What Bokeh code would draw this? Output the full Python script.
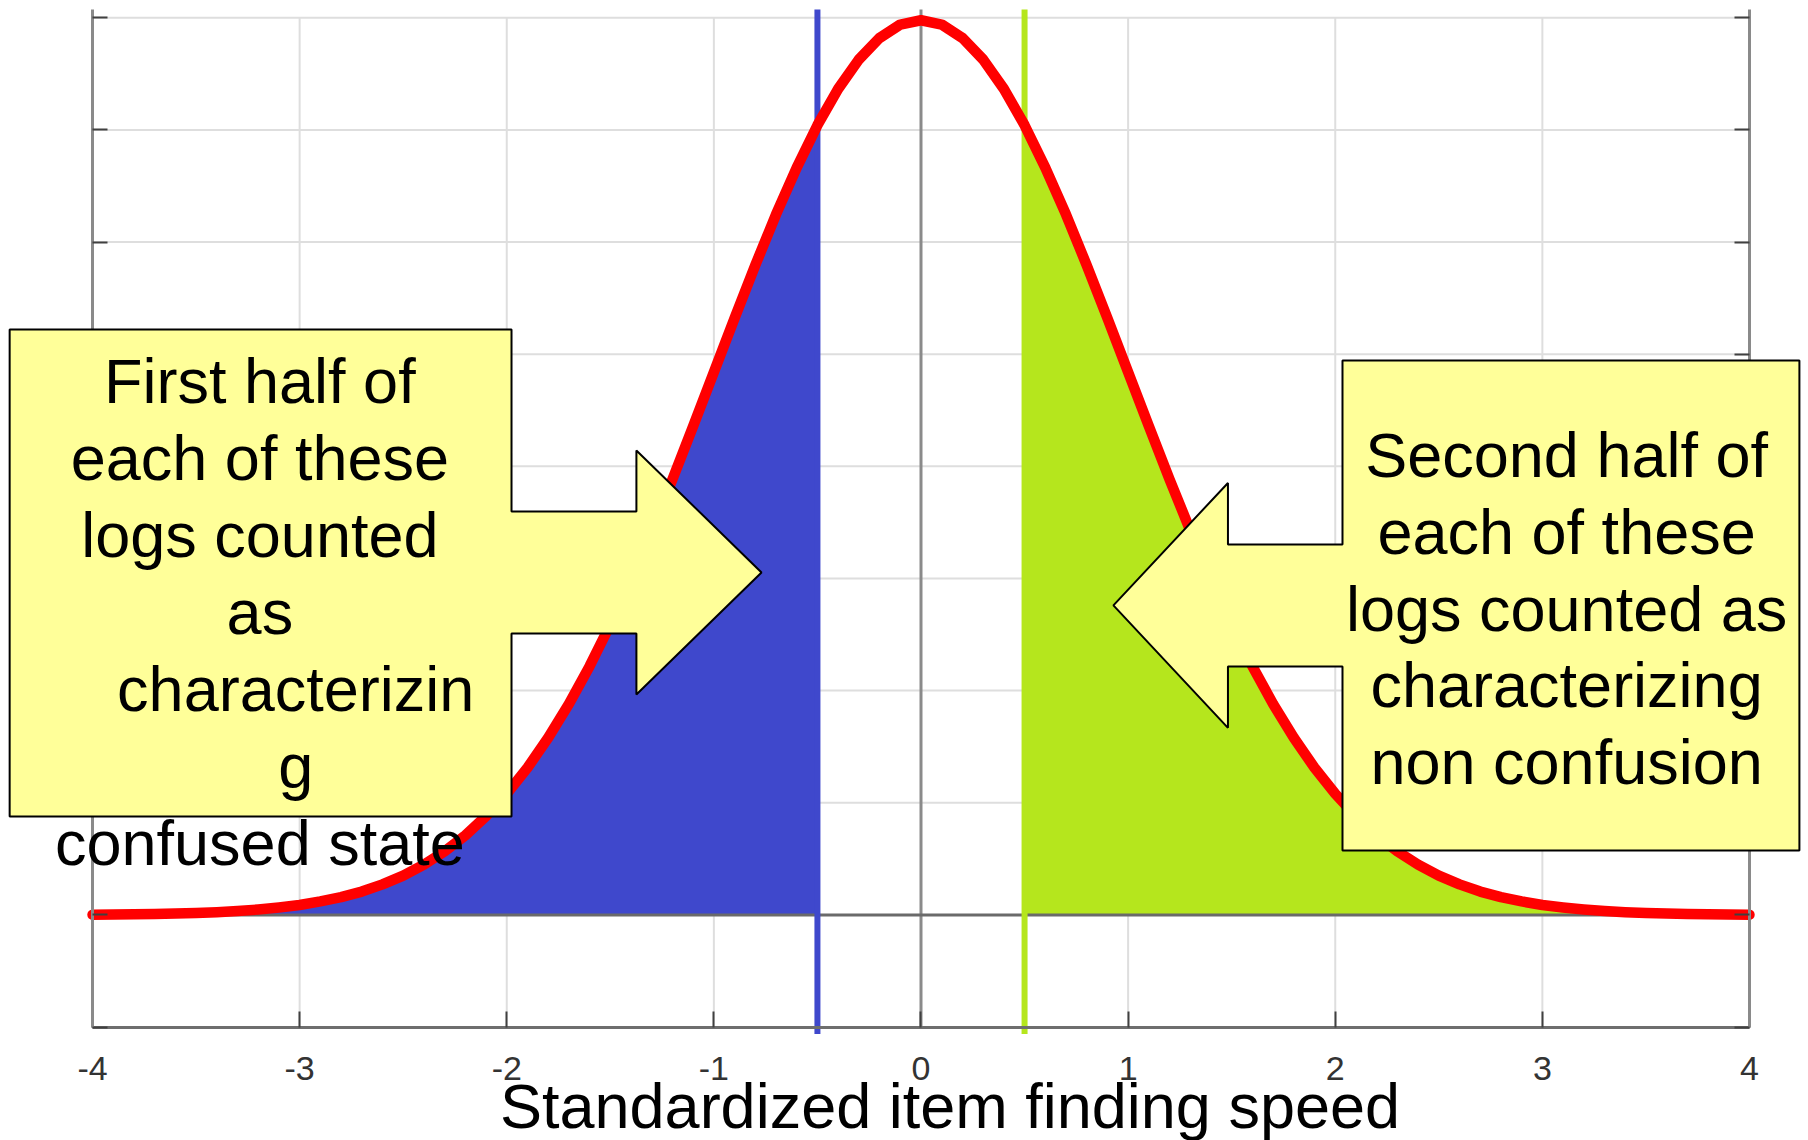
from bokeh.plotting import figure
from bokeh.models import LinearAxis, FixedTicker, Label, CustomJSTickFormatter
from bokeh.embed import file_html
from bokeh.resources import INLINE
from bokeh.core.properties import value

# ---------------- data ----------------
x_ticks = [-4, -3, -2, -1, 0, 1, 2, 3, 4]
y_ticks = [-0.05, 0.0, 0.05, 0.10, 0.15, 0.20, 0.25, 0.30, 0.35, 0.40]

curve_x = [round(-4 + 0.1 * i, 1) for i in range(81)]
curve_y = [
    0.0001, 0.0002, 0.0003, 0.0004, 0.0006, 0.0009, 0.0012, 0.0017, 0.0024, 0.0033,
    0.0044, 0.0060, 0.0079, 0.0104, 0.0136, 0.0175, 0.0224, 0.0283, 0.0355, 0.0440,
    0.0540, 0.0656, 0.0790, 0.0940, 0.1109, 0.1295, 0.1497, 0.1714, 0.1942, 0.2179,
    0.2420, 0.2661, 0.2897, 0.3123, 0.3332, 0.3521, 0.3683, 0.3814, 0.3910, 0.3970,
    0.3989,
    0.3970, 0.3910, 0.3814, 0.3683, 0.3521, 0.3332, 0.3123, 0.2897, 0.2661, 0.2420,
    0.2179, 0.1942, 0.1714, 0.1497, 0.1295, 0.1109, 0.0940, 0.0790, 0.0656, 0.0540,
    0.0440, 0.0355, 0.0283, 0.0224, 0.0175, 0.0136, 0.0104, 0.0079, 0.0060, 0.0044,
    0.0033, 0.0024, 0.0017, 0.0012, 0.0009, 0.0006, 0.0004, 0.0003, 0.0002, 0.0001,
]

split_low = -0.5
split_high = 0.5

x_label = "Standardized item finding speed"
left_lines = ["First half of", "each of these", "logs counted", "as",
              "characterizin", "g", "confused state"]
right_lines = ["Second half of", "each of these", "logs counted as",
               "characterizing", "non confusion"]

# ---------------- layout (data units) ----------------
X_RANGE = (-4.4442, 4.2849)
Y_RANGE = (-0.10059, 0.40771)
TOP = 0.4037            # top of axes / reference lines
BOTTOM_EXT = -0.0531    # reference lines slightly below the axis

left_callout = dict(l=-4.400, r=-1.977, b=0.0439, t=0.2610,
                    cy=0.1527, sh=0.0272, hh=0.0544, hx=-1.374, tip=-0.770)
right_callout = dict(l=2.035, r=4.241, b=0.0287, t=0.2472,
                     cy=0.1380, sh=0.0272, hh=0.0546, hx=1.482, tip=0.929)

left_text = dict(x=-3.192, x_shift=-3.019, y0=0.2380, dy=0.0343)
right_text = dict(x=3.117, y0=0.2052, dy=0.0343)

FONT = "Liberation Sans"
YELLOW = "#ffff99"
BLUE = "#3f48cc"
GREEN = "#b5e61d"
RED = "#ff0000"
GRID = "#dedede"

p = figure(width=1808, height=1140, x_range=X_RANGE, y_range=Y_RANGE,
           x_axis_type=None, y_axis_type=None, output_backend="svg",
           toolbar_location=None, min_border=0, outline_line_color=None)
p.background_fill_color = "white"
p.border_fill_color = "white"

# grid lines
p.segment(x0=x_ticks, y0=[y_ticks[0]] * len(x_ticks), x1=x_ticks,
          y1=[y_ticks[-1]] * len(x_ticks), line_color=GRID, line_width=2)
p.segment(x0=[x_ticks[0]] * len(y_ticks), y0=y_ticks, x1=[x_ticks[-1]] * len(y_ticks),
          y1=y_ticks, line_color=GRID, line_width=2)

# filled tails
lx = [x for x in curve_x if x <= split_low]
ly = [y for x, y in zip(curve_x, curve_y) if x <= split_low]
rx = [x for x in curve_x if x >= split_high]
ry = [y for x, y in zip(curve_x, curve_y) if x >= split_high]
p.varea(x=lx, y1=[0] * len(lx), y2=ly, fill_color=BLUE)
p.varea(x=rx, y1=[0] * len(rx), y2=ry, fill_color=GREEN)

# zero lines
p.segment(x0=[0], y0=[y_ticks[0]], x1=[0], y1=[TOP], line_color="#8a8a8a", line_width=3)
p.segment(x0=[x_ticks[0]], y0=[0], x1=[x_ticks[-1]], y1=[0], line_color="#6a6a6a", line_width=3)

# split lines
p.segment(x0=[split_low], y0=[BOTTOM_EXT], x1=[split_low], y1=[TOP], line_color=BLUE, line_width=6)
p.segment(x0=[split_high], y0=[BOTTOM_EXT], x1=[split_high], y1=[TOP], line_color=GREEN, line_width=6)

# the curve
p.line(curve_x, curve_y, line_color=RED, line_width=10.5, line_join="round", line_cap="round")

# axes
empty = CustomJSTickFormatter(code="return ''")
plain = CustomJSTickFormatter(code="return tick.toString()")
xa = LinearAxis(ticker=FixedTicker(ticks=x_ticks), fixed_location=y_ticks[0],
                bounds=(x_ticks[0], x_ticks[-1]), formatter=plain,
                major_tick_in=16, major_tick_out=0, minor_tick_in=0, minor_tick_out=0,
                axis_line_color="#6e6e6e", axis_line_width=3,
                major_tick_line_color="#404040", major_tick_line_width=2,
                major_label_text_font=FONT, major_label_text_font_size="34px",
                major_label_text_color="#333333", major_label_standoff=30)
p.add_layout(xa, "below")
for side, loc in (("left", x_ticks[0]), ("right", x_ticks[-1])):
    ya = LinearAxis(ticker=FixedTicker(ticks=y_ticks), fixed_location=loc,
                    bounds=(y_ticks[0], TOP), formatter=empty,
                    major_tick_in=15, major_tick_out=0, minor_tick_in=0, minor_tick_out=0,
                    axis_line_color="#8a8a8a", axis_line_width=3,
                    major_tick_line_color="#404040", major_tick_line_width=2)
    p.add_layout(ya, side)

# x axis title
p.add_layout(Label(x=0.14, y=-0.0850, text=x_label, text_font=FONT,
                   text_font_size="63px", text_align="center", text_baseline="middle",
                   text_color="black"))


def callout_poly(c, pointing):
    l, r, b, t = c["l"], c["r"], c["b"], c["t"]
    cy, sh, hh, hx, tip = c["cy"], c["sh"], c["hh"], c["hx"], c["tip"]
    if pointing == "right":
        xs = [l, r, r, hx, hx, tip, hx, hx, r, r, l]
        ys = [t, t, cy + sh, cy + sh, cy + hh, cy, cy - hh, cy - sh, cy - sh, b, b]
    else:
        xs = [l, r, r, l, l, hx, hx, tip, hx, hx, l]
        ys = [t, t, b, b, cy - sh, cy - sh, cy - hh, cy, cy + hh, cy + sh, cy + sh]
    return xs, ys


lxs, lys = callout_poly(left_callout, "right")
rxs, rys = callout_poly(right_callout, "left")
p.patches(xs=[lxs, rxs], ys=[lys, rys], fill_color=YELLOW, line_color="black",
          line_width=2, level="overlay")

# callout texts
ltx = [left_text["x_shift"] if s in ("characterizin", "g") else left_text["x"] for s in left_lines]
lty = [left_text["y0"] - i * left_text["dy"] for i in range(len(left_lines))]
p.text(x=ltx, y=lty, text=left_lines, text_font=value(FONT), text_font_size="63px",
       text_align="center", text_baseline="middle", text_color="black", level="overlay")
rtx = [right_text["x"]] * len(right_lines)
rty = [right_text["y0"] - i * right_text["dy"] for i in range(len(right_lines))]
p.text(x=rtx, y=rty, text=right_lines, text_font=value(FONT), text_font_size="63px",
       text_align="center", text_baseline="middle", text_color="black", level="overlay")

open("out.html", "w").write(file_html(p, INLINE))
